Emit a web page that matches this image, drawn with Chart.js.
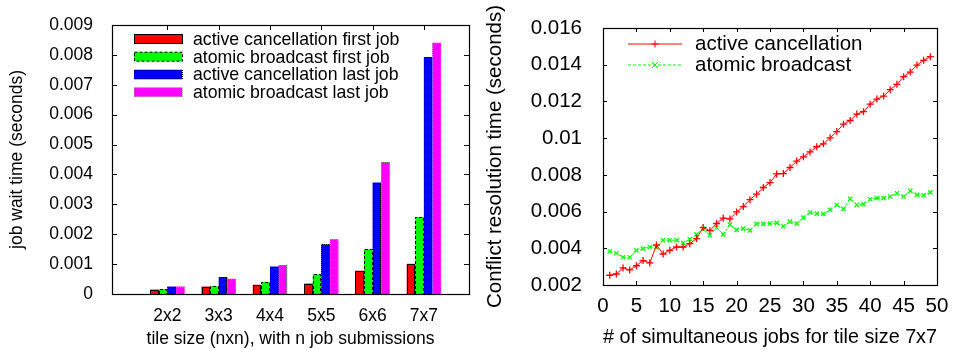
<!DOCTYPE html>
<html>
<head>
<meta charset="utf-8">
<script src="https://cdn.jsdelivr.net/npm/chart.js@4.4.1/dist/chart.umd.min.js"></script>
<style>
  html, body { margin: 0; padding: 0; background: #fff; }
  #wrap { position: relative; width: 953px; height: 350px; }
  #c1 { position: absolute; left: 0; top: 0; }
  #c2 { position: absolute; left: 480px; top: 0; }
</style>
</head>
<body>
<div id="wrap">
  <canvas id="c1" width="480" height="350"></canvas>
  <canvas id="c2" width="473" height="350"></canvas>
</div>
<script>
/* left: job wait time per tile size */
const TILE_SIZES = ['2x2', '3x3', '4x4', '5x5', '6x6', '7x7'];
const AC_FIRST = [0.00015, 0.00025, 0.00031, 0.00035, 0.00078, 0.00101];
const AB_FIRST = [0.00016, 0.00026, 0.00040, 0.00066, 0.00150, 0.00258];
const AC_LAST  = [0.00025, 0.00057, 0.00092, 0.00166, 0.00373, 0.00793];
const AB_LAST  = [0.00025, 0.00051, 0.00097, 0.00183, 0.00442, 0.00841];
const BAR_LABELS = ['active cancellation first job', 'atomic broadcast first job',
                    'active cancellation last job', 'atomic broadcast last job'];

/* right: conflict resolution time vs simultaneous jobs (7x7) */
const JOBS = [1, 2, 3, 4, 5, 6, 7, 8, 9, 10, 11, 12, 13, 14, 15, 16, 17, 18, 19, 20,
              21, 22, 23, 24, 25, 26, 27, 28, 29, 30, 31, 32, 33, 34, 35, 36, 37, 38, 39, 40,
              41, 42, 43, 44, 45, 46, 47, 48, 49];
const AC_TIME = [0.00253, 0.00260, 0.00293, 0.00282, 0.00305, 0.00333, 0.00320, 0.00418, 0.00369, 0.00389,
                 0.00407, 0.00407, 0.00425, 0.00453, 0.00513, 0.00496, 0.00535, 0.00564, 0.00560, 0.00598,
                 0.00627, 0.00665, 0.00695, 0.00731, 0.00758, 0.00805, 0.00807, 0.00840, 0.00875, 0.00898,
                 0.00925, 0.00953, 0.00969, 0.01002, 0.01036, 0.01076, 0.01096, 0.01131, 0.01144, 0.01185,
                 0.01213, 0.01229, 0.01264, 0.01293, 0.01335, 0.01360, 0.01398, 0.01424, 0.01444];
const AB_TIME = [0.00384, 0.00373, 0.00351, 0.00351, 0.00389, 0.00398, 0.00407, 0.00405, 0.00444, 0.00444,
                 0.00444, 0.00429, 0.00449, 0.00476, 0.00507, 0.00471, 0.00513, 0.00476, 0.00529, 0.00500,
                 0.00507, 0.00498, 0.00533, 0.00533, 0.00535, 0.00538, 0.00520, 0.00545, 0.00535, 0.00567,
                 0.00595, 0.00589, 0.00587, 0.00609, 0.00636, 0.00615, 0.00669, 0.00636, 0.00640, 0.00667,
                 0.00673, 0.00673, 0.00682, 0.00700, 0.00682, 0.00713, 0.00691, 0.00689, 0.00705];
const LINE_LABELS = ['active cancellation', 'atomic broadcast'];

Chart.defaults.font.family = '"Liberation Sans", Arial, Helvetica, sans-serif';
Chart.defaults.color = '#000';

const fmtTick = v => String(parseFloat(Number(v).toFixed(3)));

// gnuplot style frame: black box + inward ticks on all four sides
function framePlugin(tickLen){
  return {
    id: 'frame',
    beforeDatasetsDraw(chart){
      const {ctx, chartArea: a, scales: {x, y}} = chart;
      ctx.save();
      ctx.strokeStyle = '#000'; ctx.lineWidth = 1;
      ctx.beginPath();
      x.ticks.forEach(t => {
        const px = Math.round(x.getPixelForValue(t.value)) + 0.5;
        ctx.moveTo(px, a.top); ctx.lineTo(px, a.top + tickLen);
        ctx.moveTo(px, a.bottom); ctx.lineTo(px, a.bottom - tickLen);
      });
      y.ticks.forEach(t => {
        const py = Math.round(y.getPixelForValue(t.value)) + 0.5;
        ctx.moveTo(a.left, py); ctx.lineTo(a.left + tickLen, py);
        ctx.moveTo(a.right, py); ctx.lineTo(a.right - tickLen, py);
      });
      ctx.stroke();
      ctx.restore();
    },
    afterDatasetsDraw(chart){
      const {ctx, chartArea: a} = chart;
      ctx.save();
      ctx.strokeStyle = '#000'; ctx.lineWidth = 1.2;
      ctx.strokeRect(Math.round(a.left) + 0.5, Math.round(a.top) + 0.5,
                     Math.round(a.right - a.left), Math.round(a.bottom - a.top));
      ctx.restore();
    }
  };
}

// bar outlines with gnuplot dash types
const barOutline = {
  id: 'barOutline',
  afterDatasetsDraw(chart){
    const ctx = chart.ctx;
    chart.data.datasets.forEach((ds, i) => {
      const meta = chart.getDatasetMeta(i);
      ctx.save();
      ctx.strokeStyle = ds.outlineColor; ctx.lineWidth = 1;
      ctx.setLineDash(ds.outlineDash);
      meta.data.forEach(bar => {
        const l = Math.round(bar.x - bar.width / 2) + 0.5;
        const r = Math.round(bar.x + bar.width / 2) - 0.5;
        const t = Math.round(bar.y) + 0.5;
        const b = Math.round(bar.base);
        ctx.beginPath();
        ctx.moveTo(l, b); ctx.lineTo(l, t); ctx.lineTo(r, t); ctx.lineTo(r, b);
        ctx.stroke();
      });
      ctx.restore();
    });
  }
};

const barLegend = {
  id: 'barLegend',
  afterDraw(chart){
    const ctx = chart.ctx;
    const rows = [39, 56.7, 74.5, 92.2];
    ctx.save();
    ctx.font = '17.7px "Liberation Sans", Arial, sans-serif';
    ctx.textBaseline = 'middle';
    ctx.fillStyle = '#000';
    chart.data.datasets.forEach((ds, i) => {
      const cy = rows[i];
      ctx.fillStyle = ds.backgroundColor;
      ctx.fillRect(134, cy - 4.5, 48, 9);
      ctx.strokeStyle = ds.outlineColor; ctx.lineWidth = 1;
      ctx.setLineDash(ds.outlineDash);
      ctx.strokeRect(134.5, cy - 4.5, 48, 9);
      ctx.setLineDash([]);
      ctx.fillStyle = '#000';
      ctx.fillText(ds.label, 193, cy + 1);
    });
    ctx.restore();
  }
};

function drawMarker(ctx, style, x, y, r){
  ctx.beginPath();
  if (style === 'cross'){
    ctx.moveTo(x - r, y); ctx.lineTo(x + r, y);
    ctx.moveTo(x, y - r); ctx.lineTo(x, y + r);
  } else {
    ctx.moveTo(x - r, y - r); ctx.lineTo(x + r, y + r);
    ctx.moveTo(x - r, y + r); ctx.lineTo(x + r, y - r);
  }
  ctx.stroke();
}

const lineLegend = {
  id: 'lineLegend',
  afterDraw(chart){
    const ctx = chart.ctx;
    const rows = [43.5, 64.5];
    ctx.save();
    ctx.font = '20.5px "Liberation Sans", Arial, sans-serif';
    ctx.textBaseline = 'middle';
    chart.data.datasets.forEach((ds, i) => {
      const cy = rows[i] + 0.5;
      ctx.strokeStyle = ds.borderColor; ctx.lineWidth = 1;
      ctx.setLineDash(ds.borderDash || []);
      ctx.beginPath(); ctx.moveTo(148, cy); ctx.lineTo(202, cy); ctx.stroke();
      ctx.setLineDash([]);
      drawMarker(ctx, ds.pointStyle, 175, cy, ds.pointRadius);
      ctx.fillStyle = '#000';
      ctx.fillText(ds.label, 215, rows[i] + 1);
    });
    ctx.restore();
  }
};

const barSets = [
  { data: AC_FIRST, color: '#ff0000', outline: '#000', dash: [] },
  { data: AB_FIRST, color: '#00ff00', outline: '#000', dash: [3, 2] },
  { data: AC_LAST,  color: '#0000ff', outline: '#000', dash: [1, 1] },
  { data: AB_LAST,  color: '#ff00ff', outline: '#888', dash: [1, 1] }
];

new Chart(document.getElementById('c1'), {
  type: 'bar',
  data: {
    datasets: barSets.map((s, i) => ({
      label: BAR_LABELS[i],
      data: s.data.map((v, k) => ({ x: k, y: v })),
      backgroundColor: s.color,
      borderWidth: 0,
      outlineColor: s.outline,
      outlineDash: s.dash,
      categoryPercentage: 0.67,
      barPercentage: 1.0
    }))
  },
  options: {
    responsive: false,
    animation: false,
    layout: { padding: { top: 25, right: 11, left: 0, bottom: 0 } },
    plugins: { legend: { display: false }, tooltip: { enabled: false } },
    scales: {
      x: {
        type: 'linear', min: -1.08, max: 5.88, offset: false,
        grid: { display: false }, border: { display: false },
        afterBuildTicks: s => { s.ticks = TILE_SIZES.map((c, i) => ({ value: i })); },
        ticks: { padding: 3.5, font: { size: 17.5 }, callback: v => TILE_SIZES[v] || '' },
        afterFit: s => { s.height = 56; },
        title: { display: true, text: 'tile size (nxn), with n job submissions',
                 font: { size: 17.5 }, padding: { top: 0, bottom: 0 } }
      },
      y: {
        min: 0, max: 0.009,
        grid: { display: false }, border: { display: false },
        ticks: { stepSize: 0.001, padding: 11, font: { size: 17.5 }, callback: fmtTick },
        afterFit: s => { s.width = 112; },
        title: { display: true, text: 'job wait time (seconds)',
                 font: { size: 17.5 }, padding: { top: 6.5, bottom: 0 } }
      }
    }
  },
  plugins: [framePlugin(5), barOutline, barLegend]
});

new Chart(document.getElementById('c2'), {
  type: 'line',
  data: {
    datasets: [
      { label: LINE_LABELS[0], data: JOBS.map((j, k) => ({ x: j, y: AC_TIME[k] })),
        borderColor: '#ff0000', backgroundColor: '#ff0000', borderWidth: 1,
        pointStyle: 'cross', pointRadius: 3.5, pointBorderWidth: 1.3, pointBorderColor: '#ff0000' },
      { label: LINE_LABELS[1], data: JOBS.map((j, k) => ({ x: j, y: AB_TIME[k] })),
        borderColor: '#00ff00', backgroundColor: '#00ff00', borderWidth: 1, borderDash: [3, 2],
        pointStyle: 'crossRot', pointRadius: 3, pointBorderWidth: 1.3, pointBorderColor: '#00ff00' }
    ]
  },
  options: {
    responsive: false,
    animation: false,
    layout: { padding: { top: 28, right: 16, left: 0, bottom: 0 } },
    plugins: { legend: { display: false }, tooltip: { enabled: false } },
    scales: {
      x: {
        type: 'linear', min: 0, max: 50,
        grid: { display: false }, border: { display: false },
        ticks: { stepSize: 5, padding: 1.5, font: { size: 20.5 }, maxRotation: 0 },
        afterFit: s => { s.height = 65; },
        title: { display: true, text: '# of simultaneous jobs for tile size 7x7',
                 font: { size: 20.5 }, padding: { top: 0, bottom: 0.7 } }
      },
      y: {
        min: 0.002, max: 0.016,
        grid: { display: false }, border: { display: false },
        ticks: { stepSize: 0.002, padding: 13, font: { size: 20.5 }, callback: fmtTick },
        afterFit: s => { s.width = 123; },
        title: { display: true, text: 'Conflict resolution time (seconds)',
                 font: { size: 20.5 }, padding: { top: 2.7, bottom: 0 } }
      }
    }
  },
  plugins: [framePlugin(4), lineLegend]
});
</script>
</body>
</html>
